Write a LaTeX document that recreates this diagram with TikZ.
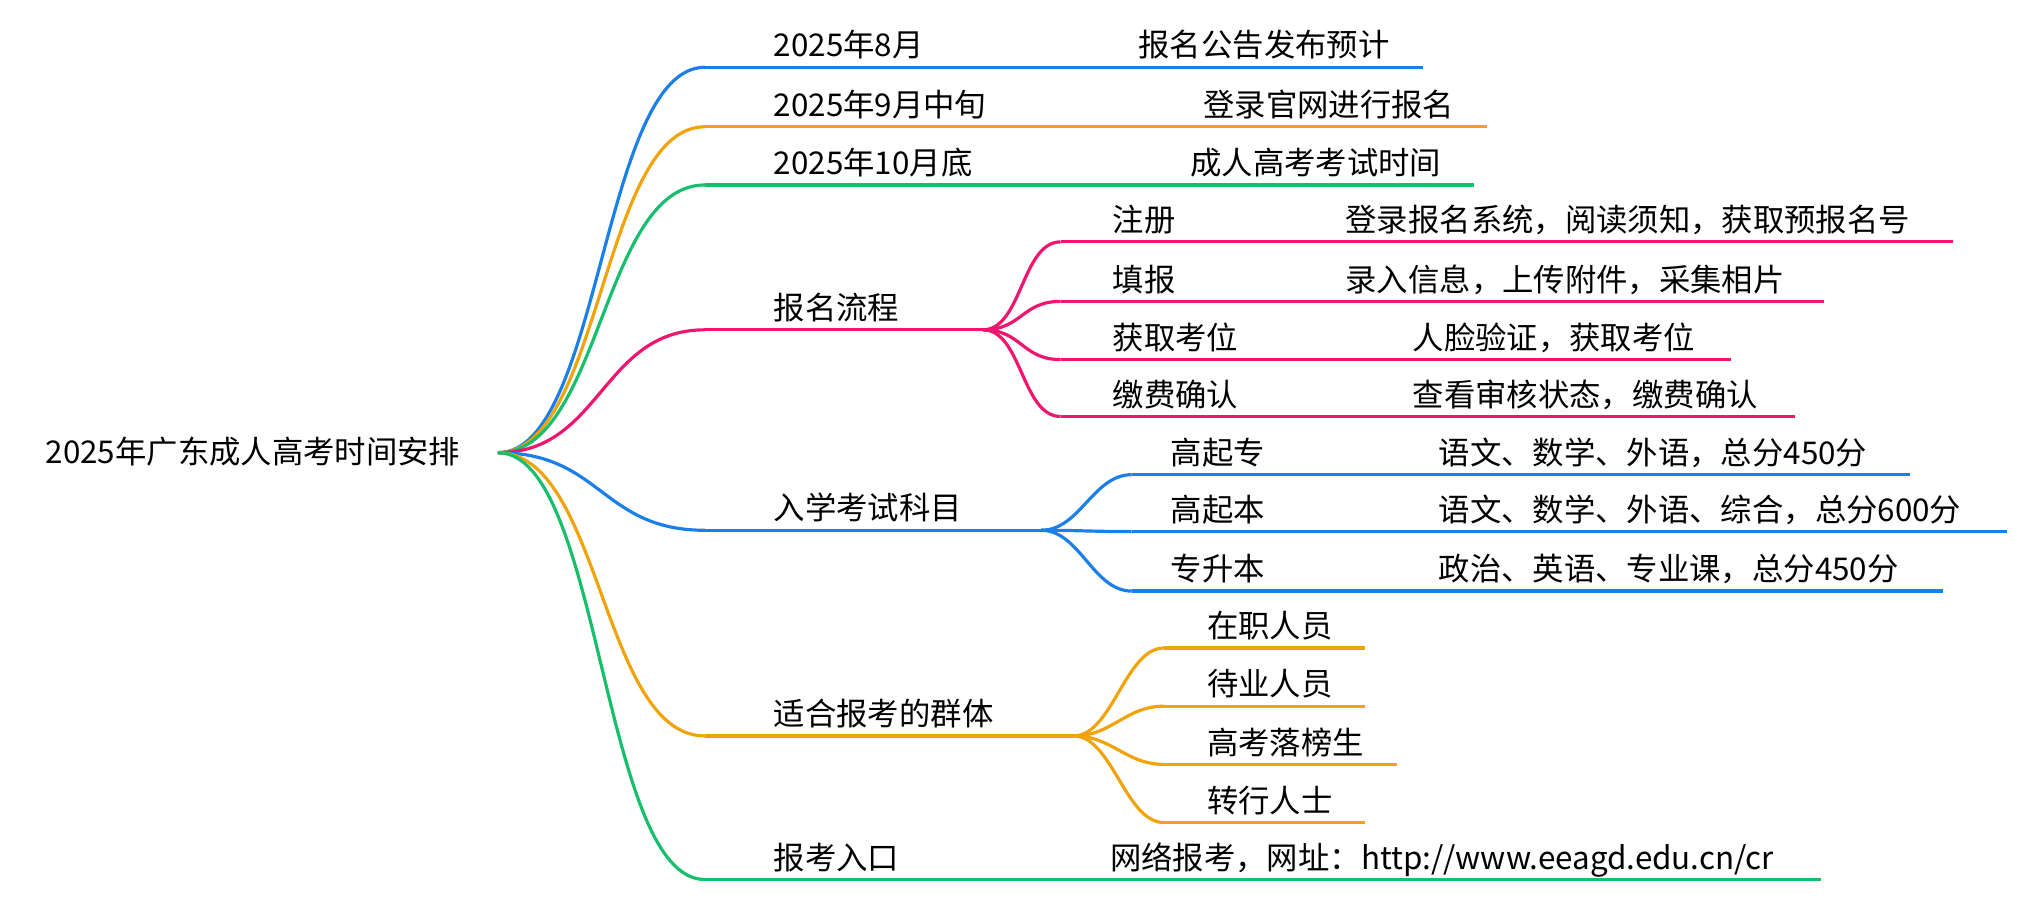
\documentclass[tikz,border=0pt]{standalone}
\usepackage{fontspec}
\setmainfont{Noto Sans CJK SC}
\definecolor{cb}{HTML}{1A7FE8}
\definecolor{co}{HTML}{F0A30A}
\definecolor{cg}{HTML}{17BE6B}
\definecolor{cp}{HTML}{F0166F}
\tikzset{lbl/.style={anchor=base west,inner sep=0pt,font=\fontsize{13.8}{16}\selectfont},
ln/.style={line width=1.4pt},
crv/.style={line width=1.4pt}}
\newcommand{\br}[6]{% color, y, xend, label, x2, text2
 \coordinate (s#2) at (545,#2); \coordinate (e#2) at (#3,#2);
 \draw[crv,#1] (root) .. controls (465,350) and (465,#2) .. (s#2);
 \draw[ln,#1] (s#2) -- (e#2);
 \node[lbl] (l#2) at (598,#2-8) {#4};
 \node[lbl] (m#2) at (#5,#2-8) {#6};}
\newcommand{\ch}[8]{% color, py, px, cy, cx0, cx1, label at x, label, x2 text2
 \coordinate (cs#4) at (#5,#4); \coordinate (ce#4) at (#6,#4);
 \draw[crv,#1] (#3,#2) .. controls (#3+30,#2) and (#5-30,#4) .. (cs#4);
 \draw[ln,#1] (cs#4) -- (ce#4);
 \node[lbl] (cl#4) at (#7,#4-8) {#8};}
\begin{document}
\begin{tikzpicture}[x=0.02cm,y=-0.02cm]
\useasboundingbox (0,0) rectangle (1568,697);
\node[lbl] (rt) at (35,358) {2025年广东成人高考时间安排};
\coordinate (root) at (385,350);
\br{cb}{52}{1100}{2025年8月}{880}{报名公告发布预计}
\br{co}{98}{1150}{2025年9月中旬}{930}{登录官网进行报名}
\br{cg}{143}{1140}{2025年10月底}{920}{成人高考考试时间}
\br{cp}{255}{760}{报名流程}{598}{}
\br{cb}{410}{805}{入学考试科目}{598}{}
\br{co}{569}{830}{适合报考的群体}{598}{}
\br{cg}{680}{1408}{报考入口}{858}{网络报考，网址：http://www.eeagd.edu.cn/cr}
\ch{cp}{255}{760}{187}{820}{1510}{860}{注册}\node[lbl] at (1040,179) {登录报名系统，阅读须知，获取预报名号};
\ch{cp}{255}{760}{233}{820}{1410}{860}{填报}\node[lbl] at (1040,225) {录入信息，上传附件，采集相片};
\ch{cp}{255}{760}{278}{820}{1338}{860}{获取考位}\node[lbl] at (1092,270) {人脸验证，获取考位};
\ch{cp}{255}{760}{322}{820}{1388}{860}{缴费确认}\node[lbl] at (1092,314) {查看审核状态，缴费确认};
\ch{cb}{410}{805}{367}{875}{1477}{905}{高起专}\node[lbl] at (1112,359) {语文、数学、外语，总分450分};
\ch{cb}{410}{805}{411}{875}{1552}{905}{高起本}\node[lbl] at (1112,403) {语文、数学、外语、综合，总分600分};
\ch{cb}{410}{805}{457}{875}{1502}{905}{专升本}\node[lbl] at (1112,449) {政治、英语、专业课，总分450分};
\ch{co}{569}{830}{501}{900}{1055}{933}{在职人员}
\ch{co}{569}{830}{546}{900}{1055}{933}{待业人员}
\ch{co}{569}{830}{591}{900}{1080}{933}{高考落榜生}
\ch{co}{569}{830}{636}{900}{1055}{933}{转行人士}
\end{tikzpicture}
\end{document}
